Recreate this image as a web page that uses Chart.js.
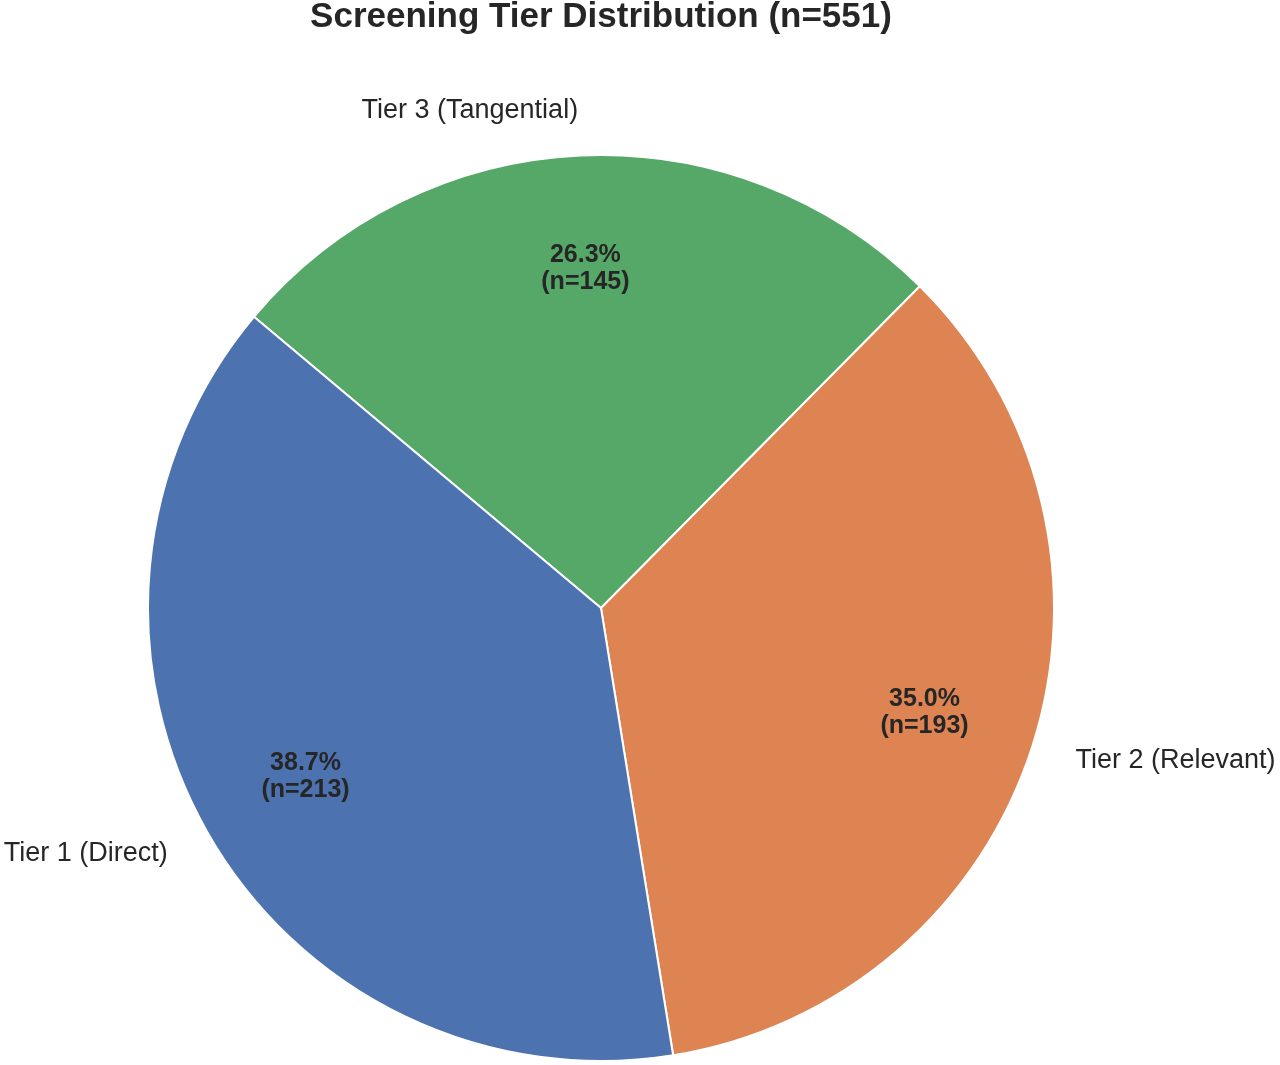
<!DOCTYPE html>
<html>
<head>
<meta charset="utf-8">
<script src="https://cdn.jsdelivr.net/npm/chart.js@4.4.0/dist/chart.umd.min.js"></script>
<style>
    html, body { margin: 0; padding: 0; background: #ffffff; }
    #wrap { width: 1280px; height: 1065px; position: relative; }
</style>
</head>
<body>
<div id="wrap"><canvas id="tierPie"></canvas></div>
<script>
// drawn clockwise, so the order is reversed to match the original counter-clockwise layout
const tierLabels = ['Tier 3 (Tangential)', 'Tier 2 (Relevant)', 'Tier 1 (Direct)'];
const tierCounts = [145, 193, 213];
const tierColors = ['#55a868', '#dd8452', '#4c72b0'];
const chartTitle = 'Screening Tier Distribution (n=551)';

const fontFamily = 'Arial, "Liberation Sans", Helvetica, sans-serif';
const textColor = '#262626';

const total = tierCounts.reduce((a, b) => a + b, 0);

// draws title, outer labels and the percentage text inside each slice
const pieText = {
    id: 'pieText',
    afterDatasetsDraw(chart) {
        const ctx = chart.ctx;
        const arcs = chart.getDatasetMeta(0).data;
        ctx.save();
        ctx.fillStyle = textColor;

        ctx.font = 'bold 35px ' + fontFamily;
        ctx.textAlign = 'center';
        ctx.textBaseline = 'middle';
        ctx.fillText(chartTitle, 601, 17);

        arcs.forEach((arc, i) => {
            const mid = (arc.startAngle + arc.endAngle) / 2;
            const r = arc.outerRadius;
            const cosA = Math.cos(mid), sinA = Math.sin(mid);

            // outer label (labeldistance 1.1)
            ctx.font = '27px ' + fontFamily;
            ctx.textBaseline = 'middle';
            ctx.textAlign = cosA > 0 ? 'left' : 'right';
            ctx.fillText(tierLabels[i], arc.x + cosA * r * 1.1, arc.y + sinA * r * 1.1);

            // percentage (pctdistance 0.75)
            const pct = (tierCounts[i] / total * 100).toFixed(1) + '%';
            const px = arc.x + cosA * r * 0.75;
            const py = arc.y + sinA * r * 0.75;
            ctx.font = 'bold 25px ' + fontFamily;
            ctx.textAlign = 'center';
            ctx.fillText(pct, px, py - 13);
            ctx.fillText('(n=' + tierCounts[i] + ')', px, py + 14);
        });
        ctx.restore();
    }
};

new Chart(document.getElementById('tierPie'), {
    type: 'pie',
    data: {
        labels: tierLabels,
        datasets: [{
            data: tierCounts,
            backgroundColor: tierColors,
            borderColor: '#ffffff',
            borderWidth: 2
        }]
    },
    options: {
        responsive: true,
        maintainAspectRatio: false,
        animation: false,
        rotation: -50,
        layout: {
            padding: { top: 154, bottom: 3, left: 147, right: 225 }
        },
        plugins: {
            legend: { display: false },
            title: { display: false },
            tooltip: { enabled: false }
        }
    },
    plugins: [pieText]
});
</script>
</body>
</html>
